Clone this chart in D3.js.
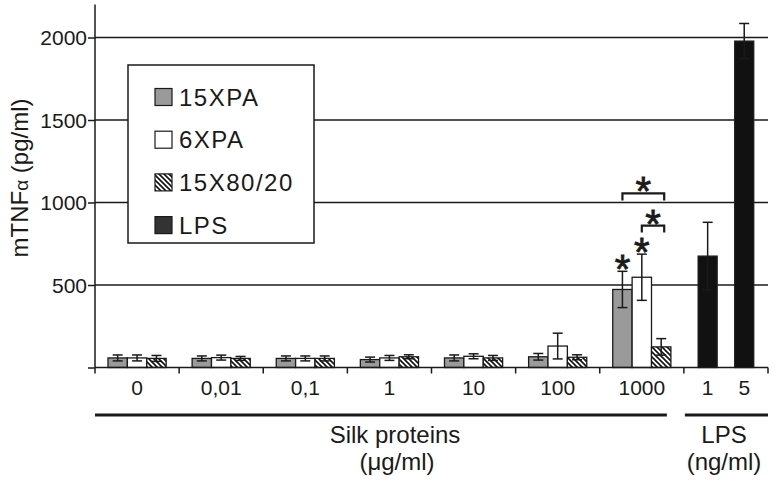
<!DOCTYPE html>
<html lang="en">
	<head>
		<meta charset="utf-8">
		<title>mTNFa silk proteins</title>
		<script type="text/javascript" src="https://d3js.org/d3.v7.min.js"></script>
		<style type="text/css">
			body { margin: 0; background: #fff; }
			text { font-family: "Liberation Sans", Arial, sans-serif; fill: #1a1a1a; }
			text.star { stroke: #1a1a1a; stroke-width: 0.8; }
		</style>
	</head>
	<body>
		<script type="text/javascript">

			// data
			var concentrations = ["0", "0,01", "0,1", "1", "10", "100", "1000"];
			var series = ["15XPA", "6XPA", "15X80/20"];
			var values15XPA = [58, 55, 55, 48, 58, 65, 473];
			var err15XPA = [18, 15, 15, 15, 18, 20, 110];
			var values6XPA = [58, 60, 55, 58, 68, 130, 547];
			var err6XPA = [18, 15, 15, 15, 15, 78, 140];
			var values15X8020 = [55, 55, 55, 65, 58, 62, 125];
			var err15X8020 = [18, 12, 15, 12, 15, 15, 50];
			var lpsDoses = ["1", "5"];
			var lpsValues = [675, 1978];
			var lpsErr = [205, 107];
			var yTicks = [0, 500, 1000, 1500, 2000];
			// significance: stars over bars, brackets [from, to, level]
			var starBars = ["15XPA", "6XPA"];
			var brackets = [["6XPA", "15X80/20", 860], ["15XPA", "15X80/20", 1055]];

			var w = 780, h = 485;

			var svg = d3.select("body").append("svg")
				.attr("width", w)
				.attr("height", h);

			var defs = svg.append("defs");
			var pat = defs.append("pattern")
				.attr("id", "hatch")
				.attr("patternUnits", "userSpaceOnUse")
				.attr("width", 5).attr("height", 5);
			pat.append("rect").attr("width", 5).attr("height", 5).attr("fill", "#fff");
			pat.append("path")
				.attr("d", "M0,0L5,5M-1,4L1,6M4,-1L6,1")
				.attr("stroke", "#111").attr("stroke-width", 1.6);

			var fills = { "15XPA": "#9a9a9a", "6XPA": "#fff", "15X80/20": "url(#hatch)" };

			var x = d3.scaleBand()
				.domain(concentrations.concat(["LPS"]))
				.range([95, 768]);

			var xs = d3.scaleBand()
				.domain(series)
				.range([0, x.bandwidth()])
				.paddingOuter(0.67);

			var xl = d3.scalePoint()
				.domain(lpsDoses)
				.range([x("LPS"), x("LPS") + x.bandwidth()])
				.padding(0.65);

			var y = d3.scaleLinear()
				.domain([0, 2200])
				.range([367.5, 4.5]);

			// gridlines
			svg.selectAll(".grid")
				.data(yTicks.slice(1))
				.enter().append("line")
				.attr("x1", 95).attr("x2", 768)
				.attr("y1", function(d) { return y(d); })
				.attr("y2", function(d) { return y(d); })
				.attr("stroke", "#1a1a1a").attr("stroke-width", 1.5);

			// y axis
			var yAxis = svg.append("g")
				.attr("transform", "translate(95,0)")
				.call(d3.axisLeft(y).tickValues(yTicks).tickSize(7).tickFormat(function(d) { return d ? d : ""; }));
			yAxis.select(".domain").attr("stroke", "#1a1a1a").attr("stroke-width", 1.5).attr("d", "M0," + y(2200) + "V" + y(0));
			yAxis.selectAll(".tick line").attr("stroke", "#1a1a1a").attr("stroke-width", 1.5);
			yAxis.selectAll(".tick text").attr("font-size", 21).attr("x", -8).attr("dy", "0.35em")
				.style("font-family", "'Liberation Sans', Arial, sans-serif").attr("fill", "#1a1a1a");

			// legend box, white so it hides the gridlines
			var leg = svg.append("g");
			leg.append("rect")
				.attr("x", 128).attr("y", 65).attr("width", 186).attr("height", 178)
				.attr("fill", "#fff").attr("stroke", "#1a1a1a").attr("stroke-width", 1.5);
			var legItems = series.concat(["LPS"]);
			var legFills = [fills["15XPA"], fills["6XPA"], fills["15X80/20"], "#333"];
			legItems.forEach(function(s, i) {
				var cy = 97 + i * 42.7;
				leg.append("rect")
					.attr("x", 155).attr("y", cy - 8.5).attr("width", 17).attr("height", 17)
					.attr("fill", legFills[i]).attr("stroke", "#1a1a1a").attr("stroke-width", 1.2);
				leg.append("text")
					.attr("x", 179).attr("y", cy + 8.5)
					.attr("font-size", 24).attr("letter-spacing", 1.5)
					.text(s);
			});

			// bars: silk proteins then LPS
			var silk = [values15XPA, values6XPA, values15X8020];
			var silkErr = [err15XPA, err6XPA, err15X8020];
			var bars = [];
			concentrations.forEach(function(c, i) {
				series.forEach(function(s, j) {
					bars.push({ cx: x(c) + xs(s) + xs.bandwidth() / 2, bw: xs.bandwidth(),
						v: silk[j][i], e: silkErr[j][i], fill: fills[s], c: c, s: s });
				});
			});
			lpsDoses.forEach(function(d, i) {
				bars.push({ cx: xl(d), bw: 19, v: lpsValues[i], e: lpsErr[i], fill: "#111", c: "LPS", s: d });
			});

			svg.selectAll(".bar")
				.data(bars)
				.enter().append("rect")
				.attr("x", function(d) { return d.cx - d.bw / 2; })
				.attr("width", function(d) { return d.bw; })
				.attr("y", function(d) { return y(d.v); })
				.attr("height", function(d) { return y(0) - y(d.v); })
				.attr("fill", function(d) { return d.fill; })
				.attr("stroke", "#1a1a1a").attr("stroke-width", 1.3);

			// error bars
			var eb = svg.selectAll(".err")
				.data(bars)
				.enter().append("g")
				.attr("stroke", "#1a1a1a").attr("stroke-width", 1.5);
			eb.append("line")
				.attr("x1", function(d) { return d.cx; }).attr("x2", function(d) { return d.cx; })
				.attr("y1", function(d) { return y(d.v + d.e); })
				.attr("y2", function(d) { return y(d.v - d.e); });
			eb.append("line")
				.attr("x1", function(d) { return d.cx - 5; }).attr("x2", function(d) { return d.cx + 5; })
				.attr("y1", function(d) { return y(d.v + d.e); })
				.attr("y2", function(d) { return y(d.v + d.e); });
			eb.append("line")
				.attr("x1", function(d) { return d.cx - 5; }).attr("x2", function(d) { return d.cx + 5; })
				.attr("y1", function(d) { return y(d.v - d.e); })
				.attr("y2", function(d) { return y(d.v - d.e); });

			// significance marks on the 1000 group
			var lastConc = concentrations[concentrations.length - 1];
			function barCx(s) { return x(lastConc) + xs(s) + xs.bandwidth() / 2; }
			starBars.forEach(function(s) {
				var b = bars.filter(function(d) { return d.c == lastConc && d.s == s; })[0];
				svg.append("text")
					.attr("class", "star")
					.attr("x", barCx(s)).attr("y", y(b.v + b.e) + 12)
					.attr("text-anchor", "middle").attr("font-size", 40)
					.text("*");
			});
			brackets.forEach(function(br) {
				var x1 = barCx(br[0]), x2 = barCx(br[1]) + 3, yy = y(br[2]);
				svg.append("path")
					.attr("d", "M" + x1 + "," + (yy + 7) + "V" + yy + "H" + x2 + "V" + (yy + 7))
					.attr("fill", "none").attr("stroke", "#1a1a1a").attr("stroke-width", 2.2);
				svg.append("text")
					.attr("class", "star")
					.attr("x", (x1 + x2) / 2).attr("y", yy + 12)
					.attr("text-anchor", "middle").attr("font-size", 40)
					.text("*");
			});

			// x axis
			svg.append("line")
				.attr("x1", 95).attr("x2", 768)
				.attr("y1", y(0)).attr("y2", y(0))
				.attr("stroke", "#1a1a1a").attr("stroke-width", 1.5);
			var edges = x.domain().map(function(c) { return x(c); }).concat([x("LPS") + x.bandwidth()]);
			svg.selectAll(".xtick")
				.data(edges)
				.enter().append("line")
				.attr("x1", function(d) { return d; }).attr("x2", function(d) { return d; })
				.attr("y1", y(0)).attr("y2", y(0) + 6)
				.attr("stroke", "#1a1a1a").attr("stroke-width", 1.5);
			svg.selectAll(".xlab")
				.data(concentrations)
				.enter().append("text")
				.attr("x", function(d) { return x(d) + x.bandwidth() / 2; })
				.attr("y", 395)
				.attr("text-anchor", "middle").attr("font-size", 21)
				.text(function(d) { return d; });
			svg.selectAll(".llab")
				.data(lpsDoses)
				.enter().append("text")
				.attr("x", function(d) { return xl(d); })
				.attr("y", 395)
				.attr("text-anchor", "middle").attr("font-size", 21)
				.text(function(d) { return d; });

			// group lines and titles
			svg.append("line")
				.attr("x1", x(concentrations[0])).attr("x2", x(lastConc) + x.bandwidth() - 17)
				.attr("y1", 415).attr("y2", 415)
				.attr("stroke", "#1a1a1a").attr("stroke-width", 3);
			svg.append("line")
				.attr("x1", x("LPS") + 1).attr("x2", 768)
				.attr("y1", 415).attr("y2", 415)
				.attr("stroke", "#1a1a1a").attr("stroke-width", 3);

			svg.append("text").attr("x", 395).attr("y", 443)
				.attr("text-anchor", "middle").attr("font-size", 24).text("Silk proteins");
			svg.append("text").attr("x", 397).attr("y", 470)
				.attr("text-anchor", "middle").attr("font-size", 24).text("(\u03bcg/ml)");
			svg.append("text").attr("x", 724).attr("y", 443)
				.attr("text-anchor", "middle").attr("font-size", 24).text("LPS");
			svg.append("text").attr("x", 724).attr("y", 470)
				.attr("text-anchor", "middle").attr("font-size", 24).text("(ng/ml)");

			// y title
			var yt = svg.append("text")
				.attr("transform", "translate(28,178) rotate(-90)")
				.attr("text-anchor", "middle").attr("font-size", 24);
			yt.append("tspan").text("mTNF");
			yt.append("tspan").attr("font-size", 19).text("\u03b1");
			yt.append("tspan").text(" (pg/ml)");
		</script>
	</body>
</html>
